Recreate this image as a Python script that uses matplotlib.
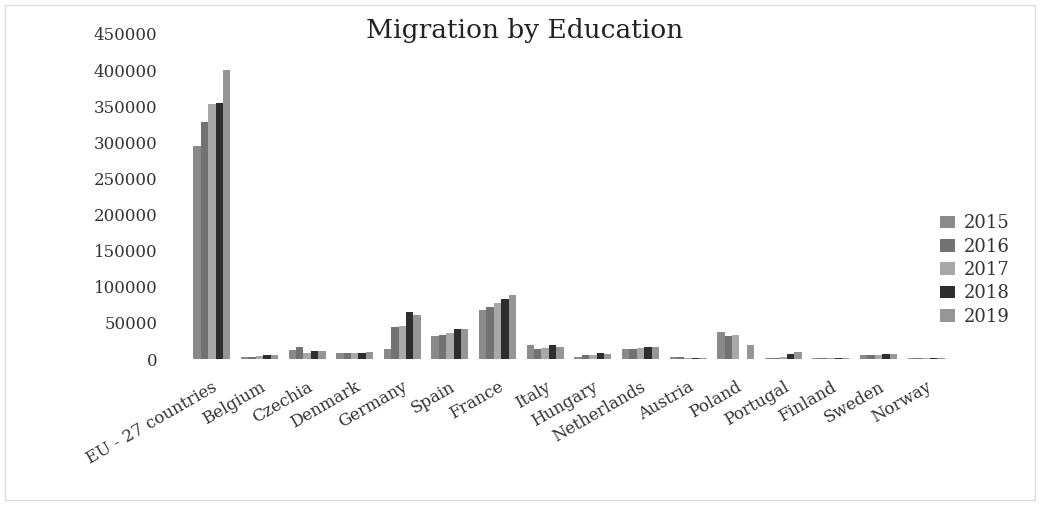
import matplotlib.pyplot as plt
import numpy as np
from matplotlib.patches import Rectangle

plt.rcParams["font.family"] = ["DejaVu Serif"]

countries = ['EU - 27 countries', 'Belgium', 'Czechia', 'Denmark', 'Germany',
             'Spain', 'France', 'Italy', 'Hungary', 'Netherlands', 'Austria',
             'Poland', 'Portugal', 'Finland', 'Sweden', 'Norway']
years = ['2015', '2016', '2017', '2018', '2019']

v2015 = [295000, 3000, 12000, 8000, 14000, 32000, 68000, 20000, 3000, 14000, 3000, 37500, 1000, 2000, 5000, 1000]
v2016 = [328000, 3000, 16000, 8000, 45000, 33000, 72000, 14000, 5000, 14000, 3000, 32000, 2000, 2000, 5000, 1000]
v2017 = [353000, 3500, 9000, 8000, 46000, 36000, 77000, 15000, 6000, 15000, 2000, 33000, 3000, 2000, 6000, 1000]
v2018 = [354000, 5000, 11000, 9000, 65000, 42000, 83000, 20000, 9000, 17000, 2000, 0, 7000, 2000, 7000, 1000]
v2019 = [400000, 5000, 11000, 10000, 61000, 42000, 88000, 17000, 7000, 17000, 2000, 19000, 10000, 2000, 7000, 1000]

series = [v2015, v2016, v2017, v2018, v2019]
colors = ['#8a8a8a', '#727272', '#a8a8a8', '#2e2e2e', '#969696']

fig = plt.figure(figsize=(10.42, 5.05), dpi=100)
ax = fig.add_axes([188/1042, 1 - 359/505, (950-188)/1042, (359-34)/505])

x = np.arange(len(countries))
w = 0.155
for i, (vals, c, yr) in enumerate(zip(series, colors, years)):
    ax.bar(x + (i - 2) * w, vals, width=w, color=c, label=yr)

ax.set_xlim(-0.5, len(countries) - 0.5)
ax.set_ylim(0, 450000)
ax.set_yticks(range(0, 450001, 50000))
ax.tick_params(axis='y', length=0, pad=22, labelsize=12, labelcolor='#333333')
ax.tick_params(axis='x', length=0, pad=14, labelsize=12, labelcolor='#333333')
ax.set_xticks(x)
ax.set_xticklabels(countries, rotation=30, ha='right', rotation_mode='anchor')
for s in ax.spines.values():
    s.set_visible(False)

fig.text(0.503, 0.94, 'Migration by Education', ha='center', va='center',
         fontsize=19, color='#222222')

ax.legend(loc='center left', bbox_to_anchor=(924/1042, 1 - 270/505),
          bbox_transform=fig.transFigure, frameon=False, fontsize=13,
          handlelength=0.8, handleheight=0.7, labelspacing=0.3,
          handletextpad=0.5, labelcolor='#333333')

fig.patches.append(Rectangle((5/1042, 5/505), 1030/1042, 495/505,
                             transform=fig.transFigure, fill=False,
                             edgecolor='#dddddd', linewidth=1))

plt.savefig('out.png', dpi=100)
